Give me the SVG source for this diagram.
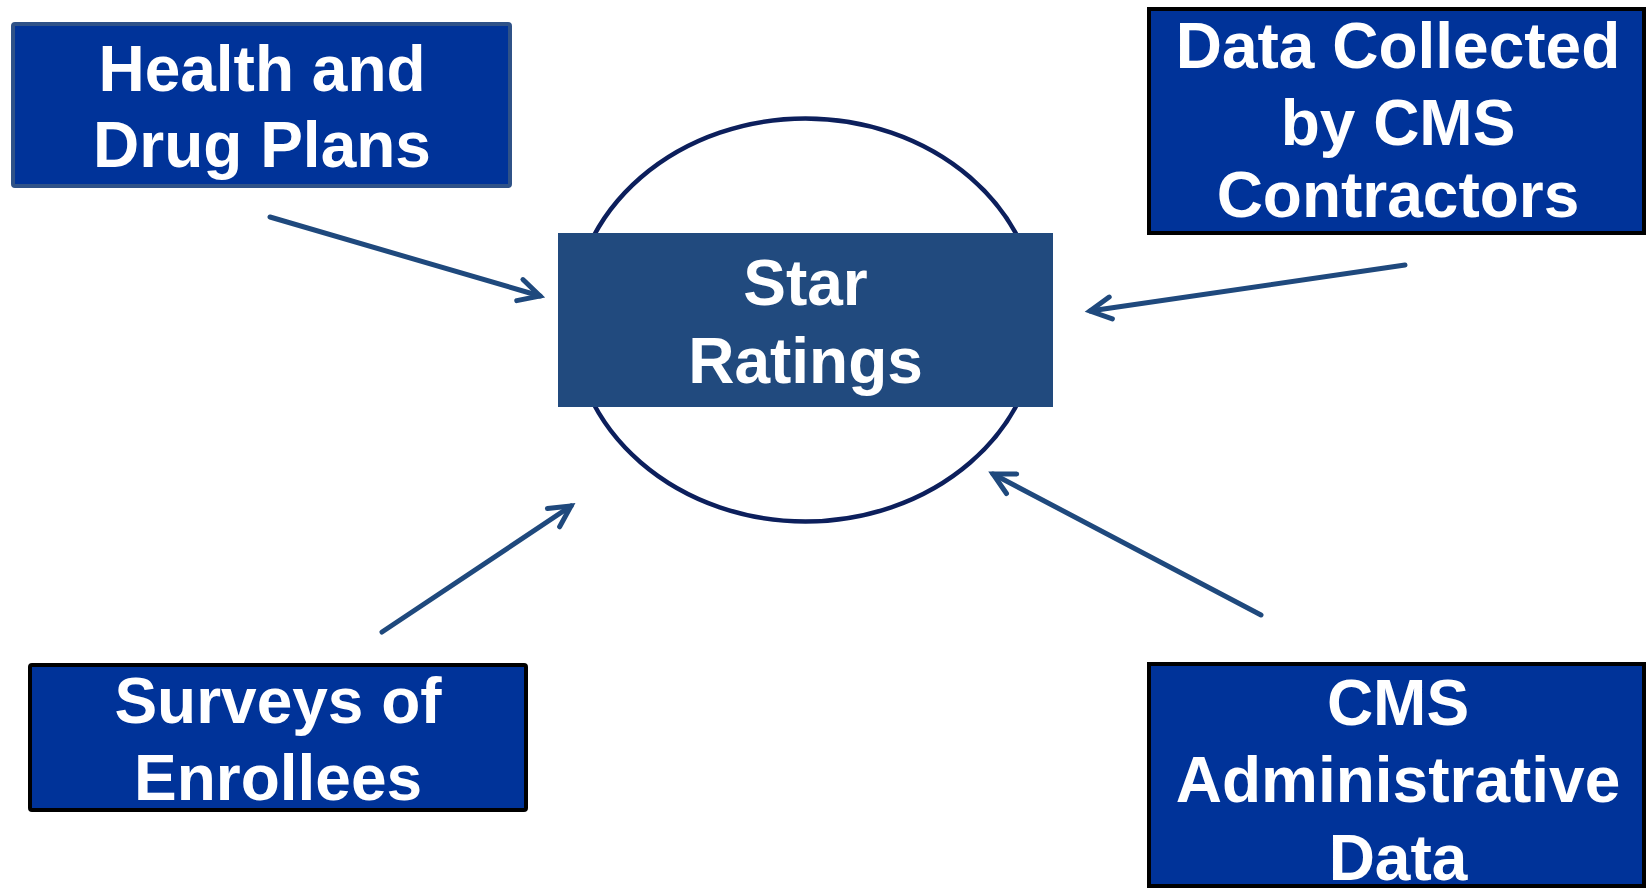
<svg xmlns="http://www.w3.org/2000/svg" width="1646" height="888" viewBox="0 0 1646 888">
<style>
.box{fill:#003399;stroke:#000;stroke-width:4}
.lbl{font-family:"Liberation Sans",Arial,sans-serif;font-weight:bold;font-size:64px;fill:#fff;text-anchor:middle}
.conn{stroke:#1F497D;stroke-width:5;stroke-linecap:round;fill:none}
</style>
<defs>
<marker id="arr" markerUnits="userSpaceOnUse" markerWidth="40" markerHeight="40" refX="0" refY="0" orient="auto" viewBox="-30 -20 40 40" overflow="visible">
<path d="M-21,-11 L0,0 L-21,11" fill="none" stroke="#1F497D" stroke-width="5" stroke-linecap="round" stroke-linejoin="miter"/>
</marker>
</defs>
<rect width="1646" height="888" fill="#fff"/>
<g id="star-ratings">
<ellipse cx="805.5" cy="320" rx="233" ry="201.5" fill="none" stroke="#0c1f5c" stroke-width="4.5"/>
<rect x="558" y="233" width="495" height="174" fill="#214A7E"/>
<text class="lbl" x="805.5" y="305">Star</text>
<text class="lbl" x="805.5" y="383">Ratings</text>
</g>
<g id="health-drug-plans">
<rect x="13" y="24" width="497" height="162" rx="2" fill="#003399" stroke="#2F5288" stroke-width="4"/>
<text class="lbl" x="262" y="91">Health and</text>
<text class="lbl" x="262" y="167">Drug Plans</text>
</g>
<g id="data-collected">
<rect class="box" x="1149" y="9" width="495" height="224"/>
<text class="lbl" x="1398" y="68" font-size="62">Data Collected</text>
<text class="lbl" x="1398" y="145" font-size="62">by CMS</text>
<text class="lbl" x="1398" y="217" font-size="62">Contractors</text>
</g>
<g id="surveys-enrollees">
<rect class="box" x="30" y="665" width="496" height="145" rx="2"/>
<text class="lbl" x="278" y="723">Surveys of</text>
<text class="lbl" x="278" y="800">Enrollees</text>
</g>
<g id="cms-admin-data">
<rect class="box" x="1149" y="664" width="495" height="222"/>
<text class="lbl" x="1398" y="725" font-size="62">CMS</text>
<text class="lbl" x="1398" y="802" font-size="62">Administrative</text>
<text class="lbl" x="1398" y="880" font-size="62">Data</text>
</g>
<g id="connectors">
<line class="conn" x1="270" y1="217" x2="540" y2="296" marker-end="url(#arr)"/>
<line class="conn" x1="1405" y1="265" x2="1090" y2="311" marker-end="url(#arr)"/>
<line class="conn" x1="382" y1="632" x2="571" y2="506" marker-end="url(#arr)"/>
<line class="conn" x1="1261" y1="615" x2="993" y2="474" marker-end="url(#arr)"/>
</g>
</svg>
